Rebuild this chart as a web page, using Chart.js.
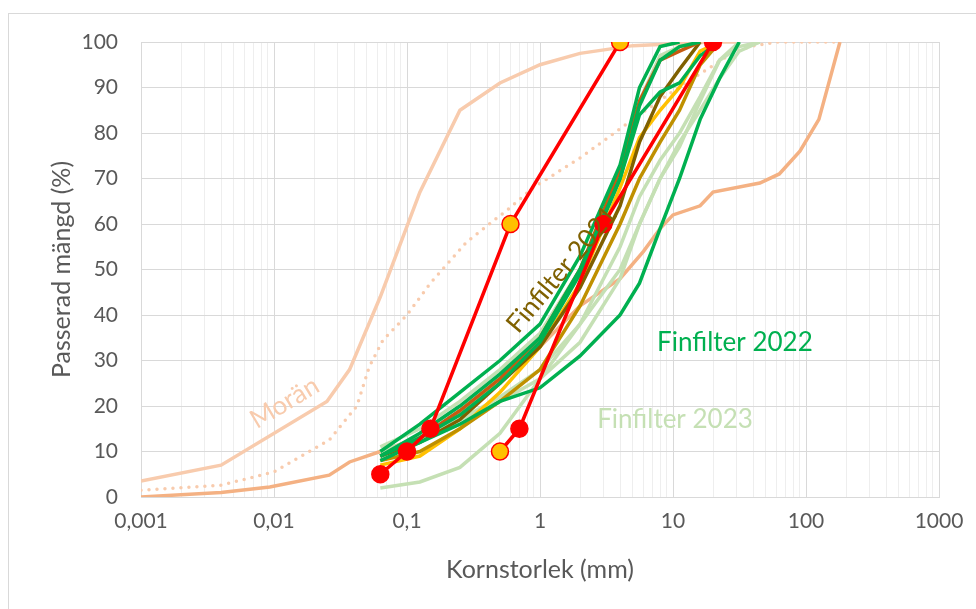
<!DOCTYPE html>
<html>
<head>
<meta charset="utf-8">
<script src="https://cdn.jsdelivr.net/npm/chart.js@4.4.1/dist/chart.umd.min.js"></script>
<style>
  html, body { margin: 0; padding: 0; background: #fff; }
  #wrap { width: 976px; height: 609px; position: relative; }
</style>
</head>
<body>
<div id="wrap"><canvas id="c" width="976" height="609"></canvas></div>
<script>
// Sieve sizes (mm) used by the filter samples
const sieves = [0.063, 0.125, 0.25, 0.5, 1, 2, 4, 5.6, 8, 11.2, 16, 22.4, 31.5, 45];

// Finfilter 2021 (passing %, per sieve)
const fin2021a = [9, 13, 19, 26, 35, 50, 72, 87, 96, 98, 100];
const fin2021b = [8, 10, 15, 21, 28, 42, 60, 70, 78, 85, 95, 100];
const fin2021c = [9, 12, 17, 25, 33, 46, 64, 78, 88, 94, 100];
const fin2021d = [7, 9, 15, 23, 33, 47, 68, 79, 85, 90, 98, 100];

// Finfilter 2022
const fin2022a = [10, 16, 23, 30, 38, 53, 73, 90, 99, 100];
const fin2022b = [9, 14, 20, 27, 35, 50, 70, 84, 89, 91, 97, 100];
const fin2022c = [8, 12, 16, 21, 24, 31, 40, 47, 59, 70, 83, 92, 100];
const fin2022d = [9, 13, 18, 25, 34, 49, 70, 86, 96, 99, 100];

// Finfilter 2023
const fin2023a = [11, 15, 21, 28, 36, 50, 70, 87, 97, 99, 100];
const fin2023b = [10, 13, 17, 22, 28, 38, 55, 66, 74, 80, 88, 96, 100];
const fin2023c = [10, 13, 17, 21, 26, 34, 48, 60, 70, 78, 85, 92, 98, 100];
const fin2023d = [2, 3.3, 6.5, 14, 26, 38, 50, 60, 70, 77, 87, 96, 99, 100];

// Moraine curves (grain size mm, passing %)
const moranFineX = [0.001, 0.004, 0.025, 0.037, 0.063, 0.125, 0.25, 0.5, 1, 2, 5, 20, 32];
const moranFineY = [3.5, 7, 21, 28, 44, 67, 85, 91, 95, 97.5, 99.2, 100, 100];
const moranMidX = [0.001, 0.004, 0.01, 0.026, 0.042, 0.052, 0.066, 0.1, 0.15, 0.28, 0.59, 0.89, 2, 5, 11, 16, 28, 38, 60, 180];
const moranMidY = [1.5, 2.6, 5.5, 12.5, 20, 28.6, 34.5, 40, 47, 56, 63.5, 68, 74.5, 83, 90, 93, 97.6, 99, 100, 100];
const moranCoarseX = [0.001, 0.004, 0.0093, 0.026, 0.037, 0.063, 0.15, 0.5, 1, 2, 4, 6, 8, 10, 16, 20, 45, 63, 90, 125, 180];
const moranCoarseY = [0, 1, 2.2, 4.8, 7.7, 10, 14, 25, 33, 42, 48, 54, 59, 62, 64, 67, 69, 71, 76, 83, 100];

// Grading limits with marked points
const limitLeftX = [0.063, 0.1, 0.15, 0.6, 4];
const limitLeftY = [5, 10, 15, 60, 100];
const limitRightX = [0.5, 0.7, 3, 20];
const limitRightY = [10, 15, 60, 100];

// Axis ticks
const xMajorTicks = [0.001, 0.01, 0.1, 1, 10, 100, 1000];
const yTicks = [0, 10, 20, 30, 40, 50, 60, 70, 80, 90, 100];

const C_RED = '#FF0000', C_YEL = '#FFC000';
const C_G22 = '#00B050', C_G23 = '#C5E0B4';
const C_PEACH = '#F8CBAD', C_PEACH2 = '#F4B183';

const pairs = (xs, ys) => ys.map((y, i) => ({ x: xs[i], y }));
const onSieves = ys => pairs(sieves, ys);

function line(data, color, order, extra) {
  return Object.assign({
    data, borderColor: color, backgroundColor: color, borderWidth: 3.5,
    pointRadius: 0, tension: 0, fill: false, order
  }, extra || {});
}

const markerColors = (n, yellowIdx) =>
  Array.from({ length: n }, (_, i) => yellowIdx.includes(i) ? C_YEL : C_RED);

const datasets = [
  line(pairs(limitLeftX, limitLeftY), C_RED, 0, {
    pointRadius: 8.5, pointBackgroundColor: markerColors(5, [3, 4]),
    pointBorderColor: C_RED, pointBorderWidth: 1.5
  }),
  line(pairs(limitRightX, limitRightY), C_RED, 0, {
    pointRadius: 8.5, pointBackgroundColor: markerColors(4, [0]),
    pointBorderColor: C_RED, pointBorderWidth: 1.5
  }),
  line(onSieves(fin2022a), C_G22, 1),
  line(onSieves(fin2022b), C_G22, 1),
  line(onSieves(fin2022c), C_G22, 1),
  line(onSieves(fin2022d), C_G22, 1),
  line(onSieves(fin2021a), '#C55A11', 2),
  line(onSieves(fin2021b), '#BF9000', 2),
  line(onSieves(fin2021c), '#7F6000', 2),
  line(onSieves(fin2021d), C_YEL, 2),
  line(onSieves(fin2023a), C_G23, 3),
  line(onSieves(fin2023b), C_G23, 3),
  line(onSieves(fin2023c), C_G23, 3),
  line(onSieves(fin2023d), C_G23, 3),
  line(pairs(moranCoarseX, moranCoarseY), C_PEACH2, 4),
  line(pairs(moranFineX, moranFineY), C_PEACH, 4),
  line(pairs(moranMidX, moranMidY), C_PEACH, 4, {
    borderDash: [0, 8], borderCapStyle: 'round', borderWidth: 3.5
  })
];

// Every 1..9 x 10^n position for the log grid
function logGrid(min, max) {
  const out = [];
  for (let e = Math.round(Math.log10(min)); e < Math.round(Math.log10(max)); e++) {
    for (let m = 1; m < 10; m++) out.push(Number((m * Math.pow(10, e)).toPrecision(3)));
  }
  out.push(max);
  return out;
}
const isMajor = v => xMajorTicks.some(t => Math.abs(t - v) < t * 1e-6);

// Curve labels drawn in data space
const curveLabels = [
  { text: 'Morän', x: 0.012, y: 20.7, angle: -31, color: C_PEACH },
  { text: 'Finfilter 2021', x: 1.46, y: 50, angle: -50, color: '#7F6000' },
  { text: 'Finfilter 2022', x: 29.2, y: 34, angle: 0, color: C_G22 },
  { text: 'Finfilter 2023', x: 10.35, y: 16.9, angle: 0, color: C_G23 }
];

const frame = {
  id: 'frame',
  beforeDraw(chart) {
    const ctx = chart.ctx;
    ctx.save();
    ctx.fillStyle = '#fff';
    ctx.fillRect(0, 0, chart.width, chart.height);
    ctx.strokeStyle = '#D9D9D9';
    ctx.lineWidth = 1;
    ctx.strokeRect(8.5, 13.5, chart.width, chart.height);
    ctx.restore();
  },
  afterDatasetsDraw(chart) {
    const ctx = chart.ctx, xs = chart.scales.x, ys = chart.scales.y;
    ctx.save();
    ctx.font = '26px Lato, "Open Sans", sans-serif';
    ctx.textAlign = 'center';
    ctx.textBaseline = 'middle';
    for (const l of curveLabels) {
      ctx.save();
      ctx.translate(xs.getPixelForValue(l.x), ys.getPixelForValue(l.y));
      ctx.rotate(l.angle * Math.PI / 180);
      ctx.fillStyle = l.color;
      ctx.fillText(l.text, 0, 0);
      ctx.restore();
    }
    ctx.restore();
  }
};

new Chart(document.getElementById('c'), {
  type: 'line',
  data: { datasets },
  plugins: [frame],
  options: {
    responsive: false,
    animation: false,
    layout: { padding: { left: 0, top: 42, right: 37, bottom: 0 } },
    plugins: { legend: { display: false }, tooltip: { enabled: false } },
    scales: {
      x: {
        type: 'logarithmic',
        min: 0.001, max: 1000,
        afterBuildTicks: s => { s.ticks = logGrid(0.001, 1000).map(v => ({ value: v })); },
        afterFit: s => { s.height = 112; },
        grid: {
          drawTicks: false,
          color: c => isMajor(c.tick.value) ? '#D9D9D9' : '#EEEEEE',
          lineWidth: 1
        },
        border: { color: '#D9D9D9' },
        ticks: {
          autoSkip: false, maxRotation: 0, padding: 12,
          color: '#595959', font: { family: 'Lato', size: 21 },
          callback: v => isMajor(v) ? String(v).replace('.', ',') : ''
        },
        title: {
          display: true, text: 'Kornstorlek (mm)', color: '#595959',
          font: { family: 'Lato', size: 25 }, padding: { top: 0, bottom: 24 }
        }
      },
      y: {
        min: 0, max: 100,
        afterBuildTicks: s => { s.ticks = yTicks.map(v => ({ value: v })); },
        afterFit: s => { s.width = 141; },
        grid: { drawTicks: false, color: '#D9D9D9', lineWidth: 1 },
        border: { color: '#D9D9D9' },
        ticks: { padding: 23, color: '#595959', font: { family: 'Lato', size: 21 } },
        title: {
          display: true, text: 'Passerad mängd (%)', color: '#595959',
          font: { family: 'Lato', size: 25 }, padding: { top: 47, bottom: 0 }
        }
      }
    }
  }
});
</script>
</body>
</html>
